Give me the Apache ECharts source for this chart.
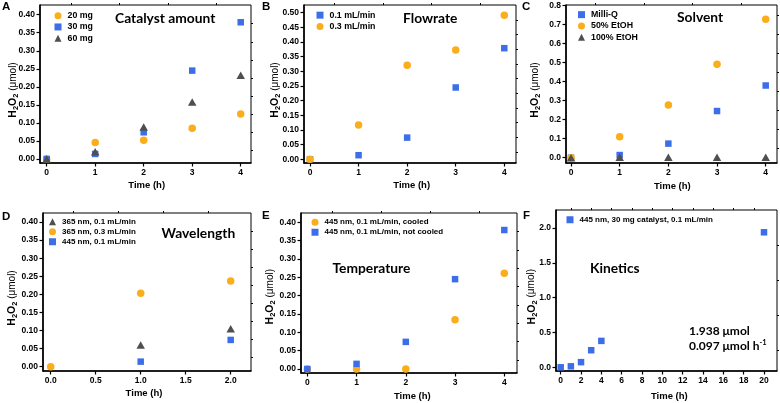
<!DOCTYPE html>
<html><head><meta charset="utf-8">
<script src="https://cdn.jsdelivr.net/npm/echarts@6/dist/echarts.min.js"></script>
<style>html,body{margin:0;padding:0;background:#fff}#c{width:780px;height:403px}</style>
</head><body><div id="c"></div>
<script>
// ---- data ----
const time4 = [0, 1, 2, 3, 4];
const timeD = [0, 1, 2];
const timeD1 = [1, 2];
const timeF = [0, 1, 2, 3, 4, 20];
// A: catalyst amount
const a20mg = [0, 0.046, 0.052, 0.085, 0.125];
const a30mg = [0, 0.014, 0.074, 0.245, 0.379];
const a60mg = [0, 0.020, 0.089, 0.158, 0.232];
// B: flowrate
const b01 = [0, 0.014, 0.074, 0.245, 0.379];
const b03 = [0, 0.117, 0.321, 0.373, 0.491];
// C: solvent
const cMilliQ = [0, 0.014, 0.074, 0.245, 0.379];
const c50EtOH = [0, 0.110, 0.277, 0.490, 0.727];
const c100EtOH = [0, 0.003, 0.003, 0.003, 0.003];
// D: wavelength
const d365_01 = [0.060, 0.105];
const d365_03 = [0, 0.203, 0.237];
const d445_01 = [0.014, 0.074];
// E: temperature
const eCooled = [0, 0, 0, 0.134, 0.261];
const eNotCooled = [0, 0.014, 0.074, 0.245, 0.379];
// F: kinetics
const fKinetics = [0, 0.014, 0.074, 0.245, 0.379, 1.938];

// tick labels
const tickX4 = [0, 1, 2, 3, 4];
const minorX4 = [0.5, 1.5, 2.5, 3.5];
const tickY040 = [0, 0.05, 0.10, 0.15, 0.20, 0.25, 0.30, 0.35, 0.40];
const minorY040 = [0.025, 0.075, 0.125, 0.175, 0.225, 0.275, 0.325, 0.375];
const tickY050 = [0, 0.05, 0.10, 0.15, 0.20, 0.25, 0.30, 0.35, 0.40, 0.45, 0.50];
const minorY050 = [0.025, 0.075, 0.125, 0.175, 0.225, 0.275, 0.325, 0.375, 0.425, 0.475];
const tickY08 = [0, 0.1, 0.2, 0.3, 0.4, 0.5, 0.6, 0.7, 0.8];
const minorY08 = [0.05, 0.15, 0.25, 0.35, 0.45, 0.55, 0.65, 0.75];
const tickXD = [0, 0.5, 1.0, 1.5, 2.0];
const minorXD = [0.25, 0.75, 1.25, 1.75];
const tickXF = [0, 2, 4, 6, 8, 10, 12, 14, 16, 18, 20];
const minorXF = [1, 3, 5, 7, 9, 11, 13, 15, 17, 19];
const tickYF = [0, 0.5, 1.0, 1.5, 2.0];
const minorYF = [0.25, 0.75, 1.25, 1.75];

const ORANGE = '#FAAE1C', BLUE = '#3C6EE8', GRAY = '#4F4F4F';
const LABEL_FONT = 'Liberation Sans, Arial, sans-serif';
const TITLE_FONT = 'Lato, Carlito, sans-serif';

const pair = (xs, ys) => xs.map((x, i) => [x, ys[i]]);

const panels = [
  { grid: {left: 40, top: 5, width: 211, height: 158}, xr: [-0.138, 4.212], yr: [-0.0111, 0.4269],
    xt: tickX4, xm: minorX4, yt: tickY040, ym: minorY040, xd: 0, yd: 2,
    legend: {left: 54.5, top: 11, fs: 8.8, gap: 2},
    series: [
      {name: '20 mg', sym: 'circle', color: ORANGE, data: pair(time4, a20mg)},
      {name: '30 mg', sym: 'rect', color: BLUE, data: pair(time4, a30mg)},
      {name: '60 mg', sym: 'triangle', color: GRAY, data: pair(time4, a60mg)}
    ]},
  { grid: {left: 304, top: 5, width: 212, height: 158}, xr: [-0.1235, 4.241], yr: [-0.0126, 0.5263],
    xt: tickX4, xm: minorX4, yt: tickY050, ym: minorY050, xd: 0, yd: 2,
    legend: {left: 316.5, top: 10.5, fs: 8.8, gap: 2},
    series: [
      {name: '0.1 mL/min', sym: 'rect', color: BLUE, data: pair(time4, b01)},
      {name: '0.3 mL/min', sym: 'circle', color: ORANGE, data: pair(time4, b03)}
    ]},
  { grid: {left: 566, top: 5, width: 211, height: 158}, xr: [-0.103, 4.232], yr: [-0.0278, 0.8016],
    xt: tickX4, xm: minorX4, yt: tickY08, ym: minorY08, xd: 0, yd: 1,
    legend: {left: 578, top: 10, fs: 8.8, gap: 2},
    series: [
      {name: 'Milli-Q', sym: 'rect', color: BLUE, data: pair(time4, cMilliQ)},
      {name: '50% EtOH', sym: 'circle', color: ORANGE, data: pair(time4, c50EtOH)},
      {name: '100% EtOH', sym: 'triangle', color: GRAY, data: pair(time4, c100EtOH)}
    ]},
  { grid: {left: 43, top: 213, width: 208, height: 158}, xr: [-0.0856, 2.2256], yr: [-0.0119, 0.4249],
    xt: tickXD, xm: minorXD, yt: tickY040, ym: minorY040, xd: 1, yd: 2,
    legend: {left: 49, top: 217.5, fs: 8, gap: 1.5},
    series: [
      {name: '365 nm, 0.1 mL/min', sym: 'triangle', color: GRAY, data: pair(timeD1, d365_01)},
      {name: '365 nm, 0.3 mL/min', sym: 'circle', color: ORANGE, data: pair(timeD, d365_03)},
      {name: '445 nm, 0.1 mL/min', sym: 'rect', color: BLUE, data: pair(timeD1, d445_01)}
    ]},
  { grid: {left: 301, top: 213, width: 216, height: 160}, xr: [-0.128, 4.258], yr: [-0.0109, 0.4254],
    xt: tickX4, xm: minorX4, yt: tickY040, ym: minorY040, xd: 0, yd: 2,
    legend: {left: 311.5, top: 218, fs: 8, gap: 1.5},
    series: [
      {name: '445 nm, 0.1 mL/min, cooled', sym: 'circle', color: ORANGE, data: pair(time4, eCooled)},
      {name: '445 nm, 0.1 mL/min, not cooled', sym: 'rect', color: BLUE, data: pair(time4, eNotCooled)}
    ]},
  { grid: {left: 556, top: 210, width: 221, height: 161}, xr: [-0.462, 21.28], yr: [-0.053, 2.258],
    xt: tickXF, xm: minorXF, yt: tickYF, ym: minorYF, xd: 0, yd: 1,
    legend: {left: 566.5, top: 215.5, fs: 8, gap: 1.5},
    series: [
      {name: '445 nm, 30 mg catalyst, 0.1 mL/min', sym: 'rect', color: BLUE, data: pair(timeF, fKinetics)}
    ]}
];

const grids = [], xAxes = [], yAxes = [], series = [], legends = [];
const tickLabel = {fontFamily: LABEL_FONT, fontWeight: 'bold', fontSize: 8.5, color: '#000'};
panels.forEach((p, i) => {
  grids.push(Object.assign({show: true, borderColor: '#000', borderWidth: 1, backgroundColor: 'transparent'}, p.grid));
  xAxes.push({type: 'value', gridIndex: i, min: p.xr[0], max: p.xr[1], splitLine: {show: false},
    axisLine: {show: true, onZero: false, lineStyle: {color: '#000', width: 1.6}},
    axisTick: {show: true, length: 3.5, customValues: p.xt, lineStyle: {color: '#000', width: 1.2}},
    axisLabel: Object.assign({show: true, margin: 5, customValues: p.xt, formatter: v => (+v).toFixed(p.xd)}, tickLabel)});
  xAxes.push({type: 'value', gridIndex: i, min: p.xr[0], max: p.xr[1], splitLine: {show: false},
    axisLine: {show: false, onZero: false}, axisLabel: {show: false},
    axisTick: {show: true, length: 2, customValues: p.xm, lineStyle: {color: '#000', width: 1}}});
  yAxes.push({type: 'value', gridIndex: i, min: p.yr[0], max: p.yr[1], splitLine: {show: false},
    axisLine: {show: true, onZero: false, lineStyle: {color: '#000', width: 1.6}},
    axisTick: {show: true, length: 3.5, customValues: p.yt, lineStyle: {color: '#000', width: 1.2}},
    axisLabel: Object.assign({show: true, margin: 5, customValues: p.yt, formatter: v => (+v).toFixed(p.yd)}, tickLabel)});
  yAxes.push({type: 'value', gridIndex: i, min: p.yr[0], max: p.yr[1], splitLine: {show: false},
    axisLine: {show: false, onZero: false}, axisLabel: {show: false},
    axisTick: {show: true, length: 2, customValues: p.ym, lineStyle: {color: '#000', width: 1}}});
  p.series.forEach(s => {
    series.push({type: 'scatter', name: s.name, xAxisIndex: 2 * i, yAxisIndex: 2 * i,
      symbol: s.sym, symbolSize: s.sym === 'circle' ? 7.5 : (s.sym === 'rect' ? 6.5 : [8.5, 7.5]),
      itemStyle: {color: s.color, opacity: 1}, data: s.data, emphasis: {disabled: true}, silent: true});
  });
  legends.push({show: true, orient: 'vertical', left: p.legend.left, top: p.legend.top, padding: 0,
    itemWidth: 7, itemHeight: 7, itemGap: p.legend.gap, selectedMode: false,
    data: p.series.map(s => s.name),
    textStyle: {fontFamily: LABEL_FONT, fontWeight: 'bold', fontSize: p.legend.fs, lineHeight: p.legend.fs + 0.5, color: '#000', padding: [0, 0, 0, 1]}});
});

const graphic = [];
function txt(x, y, text, font, opts) {
  graphic.push({type: 'text', x: x, y: y, silent: true,
    style: Object.assign({text: text, font: font, fill: '#000', textAlign: 'left', textVerticalAlign: 'middle'}, opts || {})});
}
const letters = [['A', 2, 7], ['B', 262, 7], ['C', 522, 7], ['D', 2, 217], ['E', 262, 216], ['F', 523, 216]];
letters.forEach(l => txt(l[1], l[2], l[0], 'bold 11.5px ' + LABEL_FONT));
const titles = [['Catalyst amount', 115, 18.5], ['Flowrate', 403, 18.5], ['Solvent', 677, 18], ['Wavelength', 161.5, 233.5], ['Temperature', 332.5, 268.5], ['Kinetics', 590, 268.5]];
titles.forEach(t => txt(t[1], t[2], t[0], 'bold 13.8px ' + TITLE_FONT));
const xTitles = [[146.7, 185.7], [411.7, 185.7], [672.3, 186], [144, 393.3], [412.3, 396], [669.3, 396]];
xTitles.forEach(t => txt(t[0], t[1], 'Time (h)', 'bold 9.5px ' + LABEL_FONT, {textAlign: 'center'}));
const yTitles = [[13.3, 90], [275, 90], [535, 90], [12.3, 298], [270, 296.7], [531.7, 296.7]];
yTitles.forEach(t => graphic.push({type: 'text', x: t[0], y: t[1], rotation: Math.PI / 2, silent: true,
  style: {text: '{b|H}{s|2}{b|O}{s|2}{n| (μmol)}', textAlign: 'center', textVerticalAlign: 'middle', fill: '#000',
    rich: {b: {fontFamily: LABEL_FONT, fontWeight: 'bold', fontSize: 10.5, lineHeight: 14, verticalAlign: 'middle'},
           s: {fontFamily: LABEL_FONT, fontWeight: 'bold', fontSize: 7.5, lineHeight: 8, verticalAlign: 'bottom'},
           n: {fontFamily: LABEL_FONT, fontWeight: 'normal', fontSize: 10, lineHeight: 14, verticalAlign: 'middle'}}}}));
txt(689, 331, '1.938 μmol', 'bold 12px ' + TITLE_FONT);
graphic.push({type: 'text', x: 689, y: 346, silent: true,
  style: {text: '{a|0.097 μmol h}{b|-1}', textVerticalAlign: 'middle', fill: '#000',
    rich: {a: {fontFamily: TITLE_FONT, fontWeight: 'bold', fontSize: 12, lineHeight: 14, verticalAlign: 'middle'},
           b: {fontFamily: TITLE_FONT, fontWeight: 'bold', fontSize: 7.5, lineHeight: 8, verticalAlign: 'top'}}}});

const chart = echarts.init(document.getElementById('c'), null, {renderer: 'canvas', width: 780, height: 403});
chart.setOption({animation: false, backgroundColor: '#fff', grid: grids, xAxis: xAxes, yAxis: yAxes,
  series: series, legend: legends, graphic: graphic, tooltip: {show: false}});
</script></body></html>
